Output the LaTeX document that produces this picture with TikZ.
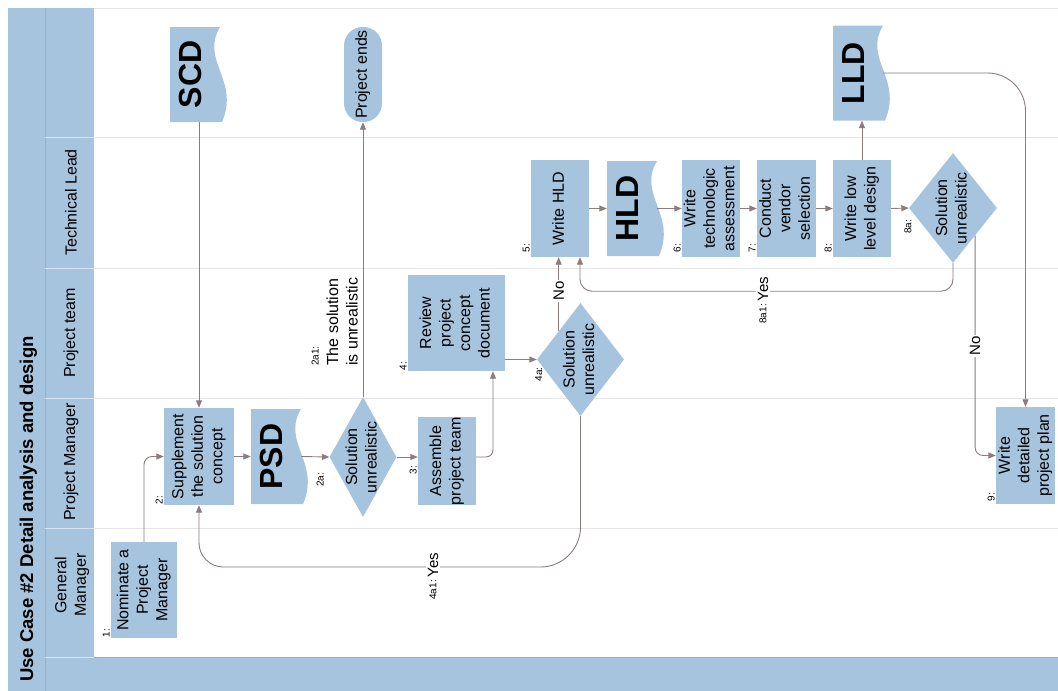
\documentclass[tikz,border=0pt]{standalone}
\usepackage{fontspec}
\usepackage{graphicx}
\setmainfont{Liberation Sans}
\usetikzlibrary{arrows.meta,shapes.geometric,calc}
\definecolor{lanefill}{RGB}{167,196,223}
\definecolor{connc}{RGB}{140,124,124}
\definecolor{laneline}{RGB}{230,230,230}
\definecolor{sepdark}{RGB}{150,176,200}
\newcommand\bodyfont{\fontsize{16}{19.5}\selectfont}
\newcommand\smallfont{\fontsize{10}{12}\selectfont}
\newcommand\rt[1]{\makebox[0pt]{\rotatebox{90}{\begin{tabular}{@{}c@{}}#1\end{tabular}}}}
\newcommand\docnode[3]{%
  \begin{scope}[shift={(#2)}]
    \fill[lanefill] (-25,-47.5) -- (25,-47.5) .. controls (5,-14) and (45,6) .. (27,47.5) -- (-25,47.5) -- cycle;
  \end{scope}
  \node[docbox] (#1) at (#2) {\makebox[0pt]{\rotatebox{90}{#3}\hspace{10pt}}};
}
\begin{document}
\begin{tikzpicture}[x=1pt,y=-1pt,
  box/.style={rectangle, fill=lanefill, inner sep=0pt, font=\bodyfont},
  term/.style={box, rounded corners=18.5pt, minimum width=38pt, minimum height=95pt},
  docbox/.style={rectangle, minimum width=50pt, minimum height=95pt, inner sep=0pt, font=\fontsize{32}{36}\selectfont\bfseries},
  dia/.style={diamond, fill=lanefill, inner sep=0pt},
  dtext/.style={font=\bodyfont, inner sep=0pt},
  stepl/.style={rotate=90, font=\smallfont, inner sep=1pt},
  yn/.style={rotate=90, fill=white, inner sep=1.5pt, font=\fontsize{15}{18}\selectfont},
  lanelbl/.style={rotate=90, font=\bodyfont, align=center, inner sep=0pt},
  conn/.style={draw=connc, line width=0.9pt, -{Triangle[length=7.5pt,width=6pt]}}
]
\useasboundingbox (0,0) rectangle (1058,691);
\clip (0,0) rectangle (1058,691);
% bands
\fill[lanefill] (8,8) rectangle (94,691);
\fill[lanefill] (45,657) rectangle (1058,691);
\draw[sepdark, line width=0.8pt] (45,8) -- (45,691);
\draw[sepdark, line width=0.8pt] (94,657) -- (1058,657);
\foreach \yy in {8,137,268,398,528} \draw[laneline, line width=0.9pt] (94,\yy) -- (1058,\yy);
\foreach \yy in {137,268,398,528,657} \draw[white!55!lanefill, line width=0.8pt] (45,\yy) -- (94,\yy);
% title and lane labels
\node[rotate=90, anchor=base east, inner sep=0pt, font=\fontsize{18.5}{22}\selectfont\bfseries] (title) at (33,336) {Use Case \#2 Detail analysis and design};
\node[lanelbl] (lTL) at (71,202.5) {Technical Lead};
\node[lanelbl] (lPT) at (71,333) {Project team};
\node[lanelbl] (lPM) at (71,462) {Project Manager};
\node[lanelbl] (lGM) at (72,585) {General\\Manager};
% nodes
\node[box, minimum width=66pt, minimum height=96pt] (nom) at (144,590) {\rt{Nominate a\\Project\\Manager}};
\node[box, minimum width=70pt, minimum height=97pt] (supp) at (199,456.5) {\rt{Supplement\\the solution\\concept}};
\docnode{psd}{276,456.5}{PSD}
\node[dia, minimum width=67pt, minimum height=120pt, label={[dtext]center:\rt{Solution\\unrealistic}}] (d2a) at (363,457) {};
\node[box, minimum width=58pt, minimum height=87pt] (asm) at (447,461) {\rt{Assemble\\project team}};
\node[box, minimum width=97pt, minimum height=96pt] (rev) at (456.5,323) {\rt{Review\\project\\concept\\document}};
\node[dia, minimum width=87pt, minimum height=113pt, label={[dtext]center:\rt{Solution\\unrealistic}}] (d4a) at (580.5,359.5) {};
\node[box, minimum width=58pt, minimum height=97pt] (whld) at (560,208.5) {\rt{Write HLD}};
\docnode{hld}{632,208.5}{HLD}
\node[box, minimum width=58pt, minimum height=97pt] (wtech) at (711,208.5) {\rt{Write\\technologic\\assessment}};
\node[box, minimum width=59pt, minimum height=97pt] (cvs) at (786.5,208.5) {\rt{Conduct\\vendor\\selection}};
\node[box, minimum width=58pt, minimum height=97pt] (wlow) at (862,208.5) {\rt{Write low\\level design}};
\node[dia, minimum width=88pt, minimum height=110pt, label={[dtext]center:\rt{Solution\\unrealistic}}] (d8a) at (953,208) {};
\docnode{lld}{858,73}{LLD}
\docnode{scd}{195,74.5}{SCD}
\node[term] (pend) at (363,74.5) {\rt{Project ends}};
\node[box, minimum width=59pt, minimum height=97pt] (wdpp) at (1025.5,455.5) {\rt{Write\\detailed\\project plan}};
% step labels
\node[stepl, anchor=south west] (s1) at (nom.south west) {1:};
\node[stepl, anchor=south west] (s2) at (supp.south west) {2:};
\node[stepl, anchor=south west] (s3) at ($(asm.south west)+(0,-30)$) {3:};
\node[stepl, anchor=south west] (s4) at (rev.south west) {4:};
\node[stepl, anchor=south west] (s5) at ($(whld.south west)+(0,-4)$) {5:};
\node[stepl, anchor=south west] (s6) at ($(wtech.south west)+(0,-4)$) {6:};
\node[stepl, anchor=south west] (s7) at ($(cvs.south west)+(0,-4)$) {7:};
\node[stepl, anchor=south west] (s8) at ($(wlow.south west)+(0,-4)$) {8:};
\node[stepl, anchor=south west] (s9) at ($(wdpp.south west)+(0,-2)$) {9:};
\node[stepl] (s2a) at ($(d2a.west)+(-9,23)$) {2a:};
\node[stepl] (s4a) at ($(d4a.west)+(2,15)$) {4a:};
\node[stepl] (s8a) at ($(d8a.west)+(-1,19)$) {8a:};
\node[rotate=90, anchor=south west, align=left, inner sep=0pt, font=\bodyfont] (t2a1) at (358,366) {{\smallfont 2a1:}\\The solution\\is unrealistic};
% connectors
\coordinate (ybase) at (433,567);
\draw[conn, rounded corners=8pt] (nom.north) |- (supp.west);
\draw[conn] (supp.north |- scd.south) -- (supp.north);
\draw[conn] (supp.east) -- (psd.west);
\draw[conn] (psd.east) -- (d2a.west);
\draw[conn] (d2a.north) -- (pend.south);
\draw[conn] (d2a.east) -- (d2a.east -| asm.west);
\draw[conn, rounded corners=7pt] (asm.east |- d2a.east) -| ($(rev.south)+(36.5,0)$);
\draw[conn] (rev.east |- d4a.west) -- (d4a.west);
\draw[conn] (d4a.north west) -- (d4a.north west |- whld.south);
\draw[conn] (d4a.south) -- ($(d4a.south |- ybase)+(0,-40)$)
  .. controls ($(d4a.south |- ybase)+(0,-18)$) and ($(d4a.south |- ybase)+(-18,0)$) .. ($(d4a.south |- ybase)+(-40,0)$)
  -- ($(supp.south |- ybase)+(24,0)$)
  .. controls ($(supp.south |- ybase)+(11,0)$) and ($(supp.south |- ybase)+(0,-11)$) .. ($(supp.south |- ybase)+(0,-24)$)
  -- (supp.south);
\draw[conn] (whld.east) -- (hld.west);
\draw[conn] (hld.east) -- (wtech.west);
\draw[conn] (wtech.east) -- (cvs.west);
\draw[conn] (cvs.east) -- (wlow.west);
\draw[conn] (wlow.north) -- (wlow.north |- lld.south);
\draw[conn] (wlow.east) -- (d8a.west);
\draw[conn, rounded corners=12pt] (d8a.south) |- ($(whld.south)+(20,34)$) -- ($(whld.south)+(20,0)$);
\draw[conn, rounded corners=8pt] (d8a.south east) |- (wdpp.west);
\draw[conn, rounded corners=38pt] (lld.east) -| (wdpp.north);
% connector labels
\node[yn] (n4) at (558.75,291) {No};
\node[yn] (y4) at (433,565) {Yes};
\node[stepl, anchor=east] (s4a1) at (y4.west) {4a1:};
\node[yn] (y8) at (763,289) {Yes};
\node[stepl, anchor=east] (s8a1) at (y8.west) {8a1:};
\node[yn] (n8) at (975,346) {No};
\end{tikzpicture}
\end{document}
